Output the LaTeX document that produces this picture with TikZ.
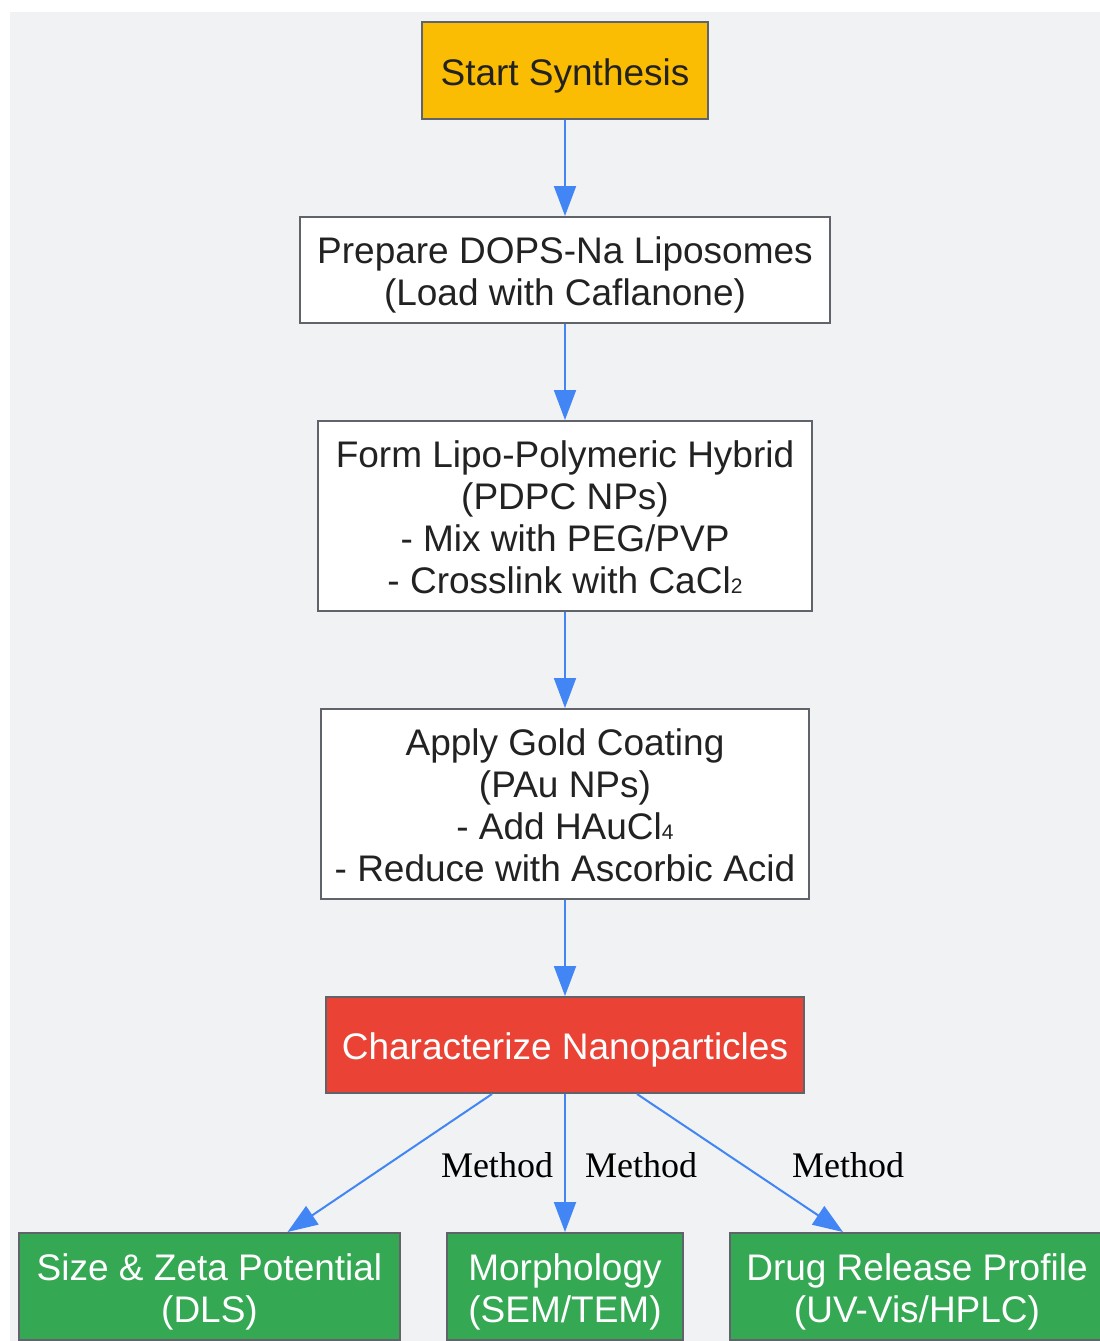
\documentclass[tikz,border=0pt]{standalone}
\usepackage{fontspec}
\setmainfont{Liberation Sans}
\newfontfamily\labelfont{Liberation Serif}
\usetikzlibrary{arrows.meta}
\definecolor{bggray}{HTML}{F1F2F4}
\definecolor{boxline}{HTML}{60646A}
\definecolor{txtdark}{HTML}{222222}
\definecolor{startyellow}{HTML}{FBBC04}
\definecolor{charred}{HTML}{EA4335}
\definecolor{methgreen}{HTML}{34A853}
\definecolor{flowblue}{HTML}{4285F4}
\newcommand{\subdig}[1]{{\fontsize{21}{21}\selectfont #1}}
\newcommand{\topstrut}{\rule{0pt}{38pt}}
\newcommand{\botstrut}{\rule[-8.4pt]{0pt}{8.4pt}}

\begin{document}
\begin{tikzpicture}[x=1pt, y=-1pt,
    box/.style={shape=rectangle, draw=boxline, line width=2pt, fill=white, text=txtdark,
        align=center, inner sep=0pt, font=\fontsize{37}{42}\selectfont},
    result/.style={box, fill=methgreen, text=white, minimum height=107pt},
    flow/.style={draw=flowblue, line width=2pt, -{Triangle[length=30pt, width=22pt]}},
    method/.style={font=\labelfont\fontsize{36}{42}\selectfont, text=black, inner sep=0pt}]
        \useasboundingbox (0,0) rectangle (1100,1341);
        \fill[bggray] (10,12) rectangle (1110,1351);

        % steps
        \node (start) at (565,70.5) [box, fill=startyellow, minimum width=286pt, minimum height=97pt] {\topstrut Start Synthesis\botstrut};
        \node (prep) at (565,270) [box, minimum width=530pt, minimum height=106pt] {\topstrut Prepare DOPS-Na Liposomes\\(Load with Caflanone)\botstrut};
        \node (form) at (565,516) [box, minimum width=494pt, minimum height=190pt] {\topstrut Form Lipo-Polymeric Hybrid\\(PDPC NPs)\\- Mix with PEG/PVP\\- Crosslink with CaCl\subdig{2}\botstrut};
        \node (gold) at (565,804) [box, minimum width=488pt, minimum height=190pt] {\topstrut Apply Gold Coating\\(PAu NPs)\\- Add HAuCl\subdig{4}\\- Reduce with Ascorbic Acid\botstrut};
        \node (charac) at (565,1045) [box, fill=charred, text=white, minimum width=478pt, minimum height=96pt] {\topstrut Characterize Nanoparticles\botstrut};

        % characterization methods
        \node (dls) at (209.5,1286.5) [result, minimum width=381pt] {\topstrut Size \& Zeta Potential\\(DLS)\botstrut};
        \node (morph) at (565,1286.5) [result, minimum width=236pt] {\topstrut Morphology\\(SEM/TEM)\botstrut};
        \node (release) at (917,1286.5) [result, minimum width=374pt] {\topstrut Drug Release Profile\\(UV-Vis/HPLC)\botstrut};

        % labels
        \node (m1) at (497,1165) [method] {Method};
        \node (m2) at (641,1165) [method] {Method};
        \node (m3) at (848,1165) [method] {Method};

        % connections
        \draw[flow] (start) -- (prep);
        \draw[flow] (prep) -- (form);
        \draw[flow] (form) -- (gold);
        \draw[flow] (gold) -- (charac);
        \draw[flow] ([xshift=-73pt]charac.south) -- ([xshift=78pt]dls.north);
        \draw[flow] (charac) -- (morph);
        \draw[flow] ([xshift=72pt]charac.south) -- ([xshift=-74pt]release.north);
    \end{tikzpicture}
\end{document}
